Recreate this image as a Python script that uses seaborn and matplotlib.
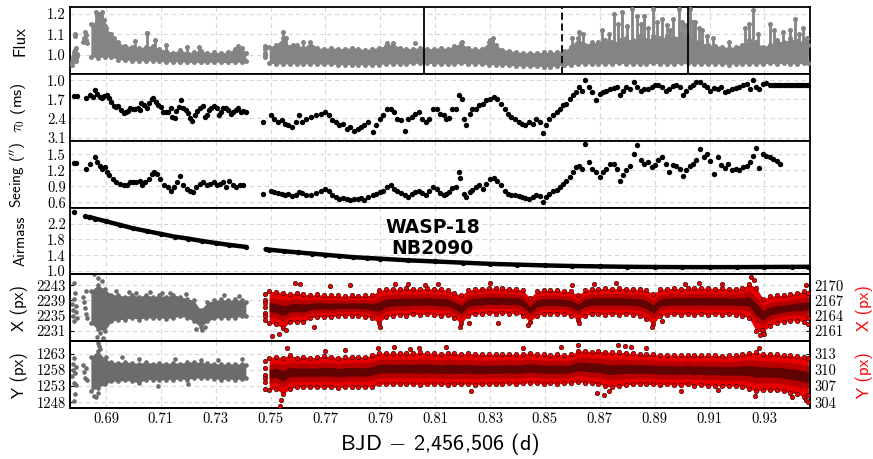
import os
import numpy as np
import pandas as pd
import matplotlib
matplotlib.use("Agg")
import matplotlib.pyplot as plt
from matplotlib import font_manager as fm
import seaborn as sns

# ---------------------------------------------------------------
# Time bins (BJD - 2,456,506) for the densely sampled photometry
# ---------------------------------------------------------------
t_a = [0.6845, 0.6870, 0.6895, 0.6920, 0.6945, 0.6970, 0.6995, 0.7020, 0.7045, 0.7070,
       0.7095, 0.7120, 0.7145, 0.7170, 0.7195, 0.7220, 0.7245, 0.7270, 0.7295, 0.7320,
       0.7345, 0.7370, 0.7395, 0.7410]
t_b = [0.7495, 0.7520, 0.7545, 0.7570, 0.7595, 0.7620, 0.7645, 0.7670, 0.7695, 0.7720,
       0.7745, 0.7770, 0.7795, 0.7820, 0.7845, 0.7870, 0.7895, 0.7920, 0.7945, 0.7970,
       0.7995, 0.8020, 0.8045, 0.8070, 0.8095, 0.8120, 0.8145, 0.8170, 0.8195, 0.8220,
       0.8245, 0.8270, 0.8295, 0.8320, 0.8345, 0.8370, 0.8395, 0.8420, 0.8445, 0.8470,
       0.8495, 0.8520, 0.8545, 0.8570, 0.8595, 0.8620, 0.8645, 0.8670, 0.8695, 0.8720,
       0.8745, 0.8770, 0.8795, 0.8820, 0.8845, 0.8870, 0.8895, 0.8920, 0.8945, 0.8970,
       0.8995, 0.9020, 0.9045, 0.9070, 0.9095, 0.9120, 0.9145, 0.9170, 0.9195, 0.9220,
       0.9245, 0.9270, 0.9295, 0.9320, 0.9345, 0.9370, 0.9395, 0.9420, 0.9445, 0.9460]

# ---- relative flux: lower / upper envelope per bin ----
flux_lo_a = [0.990, 0.985, 0.990, 0.990, 0.975, 0.975, 0.970, 0.970, 0.970, 0.970,
             0.968, 0.965, 0.965, 0.965, 0.962, 0.962, 0.962, 0.962, 0.965, 0.962,
             0.962, 0.962, 0.965, 0.970]
flux_hi_a = [1.150, 1.170, 1.140, 1.100, 1.060, 1.045, 1.040, 1.035, 1.040, 1.045,
             1.030, 1.020, 1.010, 1.025, 1.010, 1.015, 1.020, 1.010, 1.012, 1.010,
             1.012, 1.030, 1.035, 1.010]
flux_lo_b = [0.960, 0.955, 0.955, 0.955, 0.955, 0.955, 0.955, 0.955, 0.953, 0.955,
             0.950, 0.952, 0.950, 0.952, 0.950, 0.950, 0.952, 0.955, 0.955, 0.955,
             0.955, 0.958, 0.958, 0.960, 0.955, 0.955, 0.955, 0.955, 0.958, 0.955,
             0.955, 0.955, 0.950, 0.952, 0.950, 0.948, 0.945, 0.945, 0.943, 0.943,
             0.942, 0.942, 0.945, 0.948, 0.950, 0.955, 0.955, 0.955, 0.955, 0.955,
             0.955, 0.958, 0.955, 0.955, 0.955, 0.955, 0.958, 0.955, 0.955, 0.955,
             0.958, 0.958, 0.955, 0.955, 0.955, 0.955, 0.955, 0.952, 0.955, 0.955,
             0.955, 0.955, 0.955, 0.958, 0.955, 0.958, 0.955, 0.955, 0.958, 0.960]
flux_hi_b = [1.040, 1.050, 1.080, 1.040, 1.050, 1.035, 1.060, 1.035, 1.030, 1.035,
             1.030, 1.030, 1.035, 1.030, 1.025, 1.030, 1.035, 1.045, 1.055, 1.035,
             1.030, 1.030, 1.035, 1.030, 1.030, 1.035, 1.030, 1.045, 1.055, 1.035,
             1.030, 1.030, 1.060, 1.050, 1.025, 1.020, 1.015, 1.010, 1.010, 1.010,
             1.012, 1.012, 1.015, 1.020, 1.040, 1.080, 1.050, 1.060, 1.060, 1.070,
             1.060, 1.070, 1.080, 1.070, 1.090, 1.070, 1.090, 1.080, 1.090, 1.080,
             1.100, 1.090, 1.080, 1.060, 1.050, 1.045, 1.040, 1.035, 1.040, 1.050,
             1.070, 1.060, 1.040, 1.050, 1.070, 1.060, 1.080, 1.065, 1.070, 1.050]
# short bright excursions (flare-like streaks) in the flux
flux_spike_t = [0.6862, 0.6868, 0.6880, 0.6885, 0.6892, 0.6900, 0.6930, 0.7005, 0.7048, 0.7080,
                0.7120, 0.7195, 0.7240, 0.7380,
                0.7544, 0.7555, 0.7580, 0.7617, 0.7926, 0.8196, 0.8300, 0.8309, 0.8600, 0.8625,
                0.8640, 0.8708, 0.8735, 0.8750, 0.8765, 0.8781, 0.8800, 0.8817, 0.8835, 0.8850,
                0.8862, 0.8875, 0.8893, 0.8910, 0.8926, 0.8944, 0.8955, 0.8968, 0.8987, 0.9000,
                0.9011, 0.9029, 0.9040, 0.9047, 0.9060, 0.9072, 0.9090, 0.9114, 0.9170, 0.9229,
                0.9245, 0.9260, 0.9275, 0.9320, 0.9335, 0.9369, 0.9395, 0.9411, 0.9425, 0.9442,
                0.9455]
flux_spike_top = [1.210, 1.190, 1.200, 1.210, 1.170, 1.130, 1.080, 1.065, 1.105, 1.070,
                  1.050, 1.040, 1.040, 1.045,
                  1.110, 1.080, 1.050, 1.060, 1.055, 1.060, 1.070, 1.080, 1.080, 1.110,
                  1.100, 1.120, 1.100, 1.200, 1.150, 1.210, 1.140, 1.225, 1.190, 1.150,
                  1.190, 1.130, 1.225, 1.160, 1.175, 1.145, 1.120, 1.175, 1.225, 1.160,
                  1.145, 1.225, 1.160, 1.160, 1.130, 1.120, 1.090, 1.080, 1.060, 1.130,
                  1.150, 1.220, 1.100, 1.150, 1.120, 1.110, 1.120, 1.175, 1.100, 1.130,
                  1.080]
# sparse exposures at the start of each block and isolated points
flux_pts_t = [0.6776, 0.6778, 0.6780, 0.6781, 0.6783, 0.6785, 0.6787, 0.6789, 0.6790, 0.6792,
              0.6794, 0.6795, 0.6786, 0.6788, 0.6817, 0.6820, 0.6823, 0.6826, 0.6829, 0.6832,
              0.7478, 0.7478, 0.7479, 0.7481, 0.7481, 0.8028, 0.7048]
flux_pts_v = [0.950, 0.962, 0.975, 0.988, 1.000, 1.012, 1.025, 1.035, 0.985, 0.968,
              1.005, 0.995, 1.090, 1.100, 1.060, 1.080, 1.110, 1.095, 1.070, 1.055,
              0.990, 1.010, 1.030, 1.045, 1.000, 1.056, 1.105]
# contact times marked on the light curve
contact_solid = [0.8061, 0.9022]
contact_dashed = [0.8564]

# ---- coherence time tau_0 (ms) ----
tau_t = [0.6784, 0.6794, 0.6827, 0.6843, 0.6851, 0.6861, 0.6869, 0.6878, 0.6885, 0.6894,
         0.6903, 0.6912, 0.6918, 0.6928, 0.6936, 0.6945, 0.6954, 0.6964, 0.6972, 0.6981,
         0.6988, 0.6997, 0.7005, 0.7015, 0.7025, 0.7029, 0.7039, 0.7048, 0.7057, 0.7066,
         0.7073, 0.7082, 0.7090, 0.7100, 0.7108, 0.7118, 0.7127, 0.7136, 0.7142, 0.7151,
         0.7157, 0.7167, 0.7173, 0.7181, 0.7191, 0.7199, 0.7207, 0.7215, 0.7224, 0.7233,
         0.7242, 0.7252, 0.7260, 0.7270, 0.7276, 0.7284, 0.7294, 0.7304, 0.7312, 0.7318,
         0.7328, 0.7337, 0.7345, 0.7355, 0.7363, 0.7373, 0.7381, 0.7391, 0.7400, 0.7409,
         0.7474, 0.7500, 0.7512, 0.7526, 0.7540, 0.7552, 0.7564, 0.7578, 0.7592, 0.7604,
         0.7616, 0.7630, 0.7647, 0.7664, 0.7682, 0.7699, 0.7713, 0.7725, 0.7737, 0.7751,
         0.7765, 0.7777, 0.7789, 0.7803, 0.7817, 0.7829, 0.7841, 0.7855, 0.7872, 0.7886,
         0.7898, 0.7910, 0.7924, 0.7938, 0.7950, 0.7962, 0.7976, 0.7989, 0.8002, 0.8014,
         0.8028, 0.8041, 0.8053, 0.8066, 0.8079, 0.8093, 0.8105, 0.8117, 0.8131, 0.8140,
         0.8149, 0.8162, 0.8175, 0.8187, 0.8197, 0.8204, 0.8214, 0.8226, 0.8235, 0.8247,
         0.8261, 0.8273, 0.8287, 0.8301, 0.8313, 0.8325, 0.8339, 0.8353, 0.8365, 0.8377,
         0.8391, 0.8405, 0.8417, 0.8429, 0.8443, 0.8456, 0.8469, 0.8481, 0.8494, 0.8503,
         0.8515, 0.8529, 0.8543, 0.8555, 0.8567, 0.8578, 0.8590, 0.8602, 0.8612, 0.8624,
         0.8636, 0.8647, 0.8659, 0.8671, 0.8685, 0.8699, 0.8711, 0.8723, 0.8737, 0.8750,
         0.8763, 0.8775, 0.8785, 0.8797, 0.8809, 0.8823, 0.8837, 0.8849, 0.8861, 0.8875,
         0.8889, 0.8901, 0.8913, 0.8927, 0.8941, 0.8953, 0.8965, 0.8979, 0.8993, 0.9005,
         0.9013, 0.9027, 0.9039, 0.9051, 0.9065, 0.9079, 0.9091, 0.9103, 0.9117, 0.9131,
         0.9143, 0.9155, 0.9169, 0.9183, 0.9195, 0.9207, 0.9221, 0.9235, 0.9247, 0.9259,
         0.9269, 0.9281, 0.9294, 0.9307, 0.9321, 0.9330, 0.9338, 0.9346, 0.9354, 0.9362,
         0.9370, 0.9378, 0.9386, 0.9394, 0.9402, 0.9410, 0.9418, 0.9426, 0.9434, 0.9442,
         0.9450, 0.9458]
tau_v = [1.57, 1.57, 1.64, 1.55, 1.61, 1.36, 1.52, 1.61, 1.67, 1.58,
         1.55, 1.67, 1.79, 1.95, 1.97, 1.95, 2.09, 2.19, 2.16, 2.12,
         2.03, 2.07, 2.07, 2.03, 2.09, 1.85, 1.91, 2.00, 1.85, 1.69,
         1.67, 1.79, 1.91, 1.97, 2.16, 2.16, 2.16, 2.03, 2.34, 2.40,
         2.12, 1.97, 1.73, 2.00, 2.09, 2.19, 2.40, 2.48, 2.28, 2.12,
         2.03, 1.95, 2.34, 2.28, 2.09, 2.00, 1.95, 2.03, 2.28, 2.16,
         2.03, 2.00, 2.09, 2.22, 2.16, 2.09, 2.03, 2.16, 2.12, 2.16,
         2.53, 2.29, 2.41, 2.53, 2.47, 2.59, 2.65, 2.71, 2.53, 2.29,
         2.53, 2.41, 2.35, 2.29, 2.23, 2.17, 2.29, 2.47, 2.53, 2.65,
         2.59, 2.78, 2.71, 2.84, 2.78, 2.71, 2.65, 2.53, 2.90, 2.65,
         2.41, 2.29, 2.05, 2.05, 2.17, 2.41, 2.47, 2.84, 2.41, 2.35,
         2.23, 2.17, 2.41, 2.53, 2.41, 2.05, 2.07, 2.23, 2.29, 2.41,
         2.39, 2.05, 2.05, 1.56, 1.68, 2.41, 2.65, 2.23, 2.05, 2.05,
         1.92, 1.86, 1.74, 1.68, 1.62, 1.68, 1.86, 2.05, 2.23, 2.35,
         2.41, 2.53, 2.59, 2.65, 2.53, 2.59, 2.41, 2.53, 2.92, 2.65,
         2.41, 2.29, 2.17, 2.05, 1.92, 1.86, 1.68, 1.56, 1.44, 1.26,
         1.38, 0.98, 1.26, 1.44, 1.74, 1.50, 1.44, 1.38, 1.32, 1.29,
         1.26, 1.56, 1.38, 1.26, 1.32, 1.07, 1.26, 1.38, 1.32, 1.32,
         1.26, 1.19, 1.17, 1.26, 1.38, 1.32, 1.22, 1.19, 1.26, 1.56,
         1.38, 1.26, 1.17, 1.07, 1.05, 1.19, 1.26, 1.38, 1.29, 1.34,
         1.26, 1.44, 1.38, 1.32, 1.29, 1.26, 1.19, 1.13, 1.32, 0.98,
         1.26, 1.32, 1.13, 1.10, 1.17, 1.17, 1.17, 1.18, 1.17, 1.17,
         1.17, 1.18, 1.17, 1.17, 1.17, 1.17, 1.18, 1.17, 1.17, 1.17,
         1.17, 1.17]

# ---- seeing (arcsec) ----
see_t = [0.6782, 0.6791, 0.6826, 0.6843, 0.6860, 0.6869, 0.6877, 0.6886, 0.6895, 0.6903,
         0.6912, 0.6924, 0.6938, 0.6952, 0.6964, 0.6976, 0.6986, 0.6998, 0.7011, 0.7024,
         0.7033, 0.7042, 0.7056, 0.7068, 0.7076, 0.7085, 0.7097, 0.7111, 0.7125, 0.7137,
         0.7149, 0.7159, 0.7171, 0.7180, 0.7194, 0.7206, 0.7218, 0.7228, 0.7241, 0.7253,
         0.7267, 0.7280, 0.7293, 0.7305, 0.7315, 0.7327, 0.7339, 0.7350, 0.7362, 0.7374,
         0.7388, 0.7401,
         0.7474, 0.7500, 0.7512, 0.7526, 0.7540, 0.7552, 0.7564, 0.7578, 0.7592, 0.7604,
         0.7616, 0.7630, 0.7647, 0.7664, 0.7682, 0.7699, 0.7713, 0.7725, 0.7737, 0.7751,
         0.7765, 0.7777, 0.7789, 0.7803, 0.7817, 0.7829, 0.7841, 0.7855, 0.7872, 0.7886,
         0.7898, 0.7910, 0.7924, 0.7938, 0.7950, 0.7962, 0.7976, 0.7989, 0.8002, 0.8014,
         0.8028, 0.8041, 0.8053, 0.8066, 0.8079, 0.8093, 0.8105, 0.8117, 0.8131, 0.8140,
         0.8149, 0.8162, 0.8175, 0.8187, 0.8192, 0.8204, 0.8214, 0.8226, 0.8235, 0.8247,
         0.8261, 0.8273, 0.8287, 0.8301, 0.8313, 0.8325, 0.8339, 0.8353, 0.8365, 0.8377,
         0.8391, 0.8405, 0.8417, 0.8429, 0.8443, 0.8456, 0.8469, 0.8481, 0.8494, 0.8503,
         0.8515, 0.8529, 0.8543, 0.8555, 0.8567, 0.8578, 0.8590, 0.8602, 0.8612, 0.8624,
         0.8636, 0.8647, 0.8659, 0.8671, 0.8685, 0.8699, 0.8711, 0.8723, 0.8737, 0.8750,
         0.8763, 0.8775, 0.8785, 0.8797, 0.8809, 0.8823, 0.8837, 0.8849, 0.8861, 0.8875,
         0.8889, 0.8901, 0.8913, 0.8927, 0.8941, 0.8953, 0.8965, 0.8979, 0.8993, 0.9005,
         0.9013, 0.9027, 0.9039, 0.9051, 0.9065, 0.9079, 0.9091, 0.9103, 0.9117, 0.9131,
         0.9143, 0.9155, 0.9169, 0.9183, 0.9195, 0.9207, 0.9221, 0.9235, 0.9247, 0.9259,
         0.9269, 0.9281, 0.9294, 0.9307, 0.9321, 0.9333, 0.9345, 0.9356]
see_v = [1.34, 1.34, 1.23, 1.32, 1.45, 1.36, 1.29, 1.23, 1.26, 1.17,
         1.11, 1.04, 0.98, 0.95, 0.92, 0.93, 0.98, 0.99, 0.98, 1.01,
         0.93, 0.98, 1.04, 1.14, 1.17, 1.14, 1.04, 0.92, 0.89, 0.82,
         0.89, 0.98, 1.10, 0.92, 0.86, 0.82, 0.79, 0.89, 0.95, 0.98,
         0.92, 0.95, 0.98, 0.92, 0.95, 0.98, 0.89, 1.01, 0.92, 0.89,
         0.92, 0.92,
         0.76, 0.82, 0.79, 0.78, 0.76, 0.73, 0.76, 0.72, 0.74, 0.79,
         0.78, 0.73, 0.74, 0.78, 0.82, 0.86, 0.81, 0.73, 0.70, 0.67,
         0.68, 0.66, 0.64, 0.67, 0.66, 0.68, 0.64, 0.70, 0.73, 0.76,
         0.79, 0.82, 0.89, 0.92, 0.86, 0.82, 0.78, 0.74, 0.70, 0.76,
         0.79, 0.81, 0.78, 0.73, 0.82, 0.89, 0.86, 0.78, 0.73, 0.76,
         0.79, 0.87, 0.89, 1.18, 1.06, 0.76, 0.70, 0.79, 0.84, 0.89,
         0.92, 0.86, 0.95, 1.04, 1.06, 1.01, 0.92, 0.82, 0.76, 0.74,
         0.73, 0.72, 0.70, 0.68, 0.67, 0.70, 0.74, 0.72, 0.61, 0.70,
         0.76, 0.81, 0.84, 0.89, 0.95, 1.01, 1.07, 1.17, 1.26, 1.29,
         1.22, 1.70, 1.36, 1.23, 1.17, 1.07, 1.17, 1.23, 1.32, 1.32,
         1.23, 1.01, 1.11, 1.20, 1.29, 1.51, 1.68, 1.39, 1.32, 1.36,
         1.26, 1.30, 1.40, 1.45, 1.33, 1.17, 1.30, 1.28, 1.22, 1.10,
         1.20, 1.28, 1.33, 1.40, 1.61, 1.45, 1.50, 1.38, 1.14, 1.45,
         1.30, 1.24, 1.33, 1.20, 1.23, 1.20, 1.26, 1.29, 1.36, 1.48,
         1.62, 1.25, 1.50, 1.48, 1.45, 1.42, 1.38, 1.33]

# ---- airmass ----
air_t = [0.6783, 0.6823,
         0.6840, 0.6860, 0.6900, 0.6950, 0.7000, 0.7050, 0.7100, 0.7150, 0.7200, 0.7250,
         0.7300, 0.7350, 0.7410,
         0.7482, 0.7495, 0.7550, 0.7600, 0.7650, 0.7700, 0.7750, 0.7800, 0.7850, 0.7900,
         0.8000, 0.8100, 0.8200, 0.8300, 0.8400, 0.8500, 0.8600, 0.8700, 0.8800, 0.8900,
         0.9000, 0.9100, 0.9200, 0.9300, 0.9400, 0.9460]
air_v = [2.49, 2.40,
         2.37, 2.33, 2.26, 2.17, 2.08, 2.01, 1.94, 1.87, 1.82, 1.76,
         1.71, 1.66, 1.61,
         1.55, 1.54, 1.50, 1.47, 1.44, 1.41, 1.38, 1.35, 1.33, 1.31,
         1.27, 1.24, 1.21, 1.18, 1.16, 1.14, 1.125, 1.115, 1.105, 1.100,
         1.097, 1.096, 1.097, 1.100, 1.103, 1.105]
air_block = ["p1", "p2"] + ["a"] * 13 + ["b"] * 26

# ---- detector X centroid (px): first block on the left scale, second on the right ----
xg_lo = [2233.0, 2231.5, 2231.0, 2233.5, 2234.0, 2234.0, 2234.5, 2234.0, 2234.5, 2234.3,
         2234.5, 2234.2, 2234.5, 2234.8, 2234.5, 2233.5, 2232.0, 2233.5, 2234.3, 2234.5,
         2234.5, 2234.5, 2234.8, 2235.0]
xg_hi = [2241.5, 2243.0, 2242.0, 2240.5, 2240.5, 2240.0, 2240.5, 2240.0, 2240.5, 2240.0,
         2240.3, 2240.0, 2240.5, 2240.0, 2239.5, 2239.0, 2236.5, 2238.5, 2239.0, 2239.3,
         2239.0, 2239.3, 2239.0, 2238.5]
xg_pts_t = [0.6777, 0.6779, 0.6781, 0.6783, 0.6785, 0.6787, 0.6789, 0.6791, 0.6793, 0.6784,
            0.6818, 0.6821, 0.6824, 0.6827, 0.6830, 0.6826,
            0.6858, 0.6872, 0.6884, 0.6868, 0.6878, 0.6889, 0.6935, 0.6985, 0.7010, 0.7060,
            0.7105, 0.7135, 0.7190, 0.7230, 0.7250, 0.7262, 0.7330, 0.7385]
xg_pts_v = [2238.0, 2236.5, 2235.0, 2233.5, 2239.5, 2241.0, 2237.5, 2236.0, 2234.5, 2243.5,
            2240.0, 2238.5, 2237.0, 2235.5, 2234.5, 2241.5,
            2245.8, 2245.0, 2244.2, 2229.5, 2230.5, 2229.2, 2241.5, 2241.2, 2241.0, 2241.3,
            2241.0, 2240.9, 2240.8, 2231.5, 2231.2, 2232.0, 2240.3, 2240.2]
xr_lo = [2162.5, 2162.3, 2161.5, 2162.7, 2162.8, 2162.7, 2163.6, 2163.7, 2163.8, 2163.7,
         2164.0, 2164.0, 2164.0, 2164.0, 2163.8, 2163.5, 2162.5, 2163.8, 2164.0, 2164.2,
         2164.0, 2164.3, 2164.2, 2164.3, 2164.2, 2164.0, 2164.2, 2163.5, 2162.5, 2164.0,
         2164.3, 2164.3, 2164.5, 2164.4, 2164.5, 2164.4, 2164.5, 2164.0, 2162.8, 2164.0,
         2164.3, 2164.4, 2164.3, 2164.3, 2164.0, 2163.2, 2164.0, 2164.3, 2164.3, 2164.2,
         2164.3, 2164.2, 2164.3, 2164.2, 2164.0, 2163.3, 2162.3, 2164.0, 2164.2, 2164.3,
         2164.2, 2164.3, 2164.2, 2164.3, 2164.2, 2164.3, 2164.2, 2164.3, 2164.2, 2164.0,
         2163.5, 2161.0, 2160.8, 2162.0, 2162.5, 2162.8, 2163.0, 2163.0, 2162.8, 2163.5]
xr_hi = [2168.8, 2168.7, 2168.5, 2168.3, 2168.5, 2168.3, 2168.0, 2168.2, 2168.0, 2168.0,
         2168.0, 2167.8, 2168.0, 2167.9, 2168.0, 2168.0, 2169.0, 2169.2, 2169.3, 2169.2,
         2169.4, 2169.2, 2169.3, 2169.4, 2169.2, 2169.3, 2169.0, 2168.5, 2168.0, 2169.0,
         2169.3, 2169.3, 2169.5, 2169.4, 2169.4, 2169.3, 2169.3, 2169.0, 2167.5, 2168.8,
         2169.0, 2169.0, 2169.0, 2168.8, 2168.8, 2168.0, 2169.0, 2169.3, 2169.3, 2169.4,
         2169.3, 2169.4, 2169.3, 2169.2, 2169.2, 2169.0, 2168.3, 2169.2, 2169.3, 2169.4,
         2169.3, 2169.4, 2169.5, 2169.4, 2169.5, 2169.3, 2169.4, 2169.3, 2169.3, 2169.5,
         2170.2, 2169.5, 2167.3, 2167.8, 2168.0, 2168.0, 2168.2, 2168.5, 2168.8, 2168.5]
xr_pts_t = [0.7478, 0.7478, 0.7478, 0.7478, 0.7479, 0.7481, 0.7481,
            0.7505, 0.7530, 0.7555, 0.7590, 0.7606, 0.7660, 0.7715, 0.7790, 0.7900, 0.7955,
            0.8000, 0.8063, 0.8110, 0.8190, 0.8225, 0.8300, 0.8330, 0.8440, 0.8600, 0.8625,
            0.8680, 0.8760, 0.8890, 0.8925, 0.9010, 0.9060, 0.9145, 0.9250, 0.9262, 0.9285,
            0.9300, 0.9290, 0.9450, 0.9458]
xr_pts_v = [2163.2, 2164.5, 2165.8, 2167.0, 2168.3, 2163.9, 2166.4,
            2160.0, 2160.5, 2161.2, 2170.5, 2170.3, 2161.8, 2169.9, 2170.0, 2161.8, 2170.2,
            2170.3, 2170.1, 2170.2, 2161.8, 2162.5, 2170.4, 2162.6, 2162.2, 2170.1, 2162.5,
            2170.3, 2170.4, 2161.8, 2162.9, 2170.2, 2170.4, 2170.3, 2171.6, 2171.0, 2160.2,
            2160.5, 2161.2, 2170.0, 2162.3]

# ---- detector Y centroid (px) ----
yg_lo = [1251.5, 1252.5, 1253.5, 1254.5, 1254.5, 1254.8, 1254.5, 1254.0, 1255.0, 1255.0,
         1254.8, 1255.0, 1255.0, 1255.2, 1255.0, 1255.5, 1255.5, 1255.5, 1255.3, 1255.0,
         1255.2, 1255.0, 1255.2, 1255.5]
yg_hi = [1262.0, 1264.0, 1261.5, 1260.5, 1260.3, 1260.5, 1260.3, 1260.0, 1260.5, 1260.0,
         1260.3, 1260.0, 1260.3, 1260.0, 1260.5, 1260.5, 1260.3, 1260.2, 1260.0, 1259.8,
         1260.0, 1259.8, 1260.0, 1259.5]
yg_pts_t = [0.6777, 0.6779, 0.6781, 0.6783, 0.6785, 0.6787, 0.6789, 0.6791, 0.6784, 0.6786,
            0.6818, 0.6821, 0.6824, 0.6827, 0.6830,
            0.6858, 0.6865, 0.6872, 0.6876, 0.6880, 0.6870, 0.6900, 0.6960, 0.7020, 0.7090,
            0.7150, 0.7200, 0.7245, 0.7310, 0.7395]
yg_pts_v = [1256.0, 1258.0, 1260.0, 1254.0, 1261.8, 1257.0, 1253.3, 1259.0, 1248.5, 1250.5,
            1259.5, 1257.5, 1255.5, 1258.5, 1255.0,
            1250.0, 1249.5, 1266.5, 1265.5, 1264.5, 1251.0, 1262.0, 1262.0, 1261.5, 1253.0,
            1261.5, 1253.5, 1261.2, 1261.0, 1261.5]
yr_lo = [306.3, 306.5, 305.5, 306.5, 306.8, 306.8, 306.8, 306.8, 306.8, 306.8,
         306.7, 306.8, 306.9, 306.8, 306.8, 306.9, 307.3, 307.4, 307.3, 307.4,
         307.3, 307.4, 307.2, 307.3, 307.4, 307.3, 307.2, 307.3, 307.3, 307.4,
         307.2, 307.3, 307.4, 307.3, 307.4, 307.5, 307.3, 307.5, 307.6, 307.5,
         307.4, 307.5, 307.4, 307.5, 307.6, 307.8, 307.6, 307.5, 307.4, 307.0,
         306.8, 307.0, 307.2, 307.3, 307.4, 307.3, 307.3, 307.2, 307.3, 307.2,
         307.2, 307.3, 307.1, 307.2, 307.0, 307.1, 307.0, 307.0, 307.0, 306.8,
         306.5, 306.0, 306.3, 306.3, 306.2, 306.0, 305.8, 305.5, 305.0, 305.3]
yr_hi = [312.3, 312.5, 312.3, 312.8, 312.3, 312.5, 312.3, 312.4, 312.6, 312.5,
         312.3, 312.4, 312.5, 312.5, 312.4, 312.8, 313.2, 313.2, 313.1, 313.2,
         313.2, 313.1, 313.3, 313.2, 313.1, 313.0, 313.2, 313.1, 313.0, 313.1,
         313.0, 312.9, 312.9, 313.0, 312.9, 313.0, 312.9, 313.0, 313.2, 313.0,
         312.9, 312.8, 312.9, 312.8, 312.9, 313.5, 313.6, 313.4, 313.5, 313.4,
         313.3, 313.3, 313.2, 313.1, 313.0, 313.0, 312.9, 312.8, 312.8, 312.8,
         312.7, 312.8, 312.7, 312.8, 312.7, 312.8, 312.6, 312.7, 312.7, 313.0,
         313.2, 313.3, 313.0, 312.9, 312.9, 312.8, 312.7, 312.6, 312.5, 312.2]
yr_pts_t = [0.7478, 0.7478, 0.7478, 0.7478, 0.7479, 0.7481,
            0.7535, 0.7538, 0.7560, 0.7700, 0.7770, 0.7890, 0.7950, 0.8010, 0.8040, 0.8140,
            0.8230, 0.8420, 0.8560, 0.8620, 0.8690, 0.8715, 0.8735, 0.8765, 0.8790, 0.8815,
            0.8870, 0.8995, 0.9130, 0.9265, 0.9280, 0.9400, 0.9452, 0.9460]
yr_pts_v = [306.5, 307.8, 309.1, 310.4, 311.7, 308.5,
            303.3, 304.5, 314.0, 313.6, 313.8, 314.1, 314.3, 313.9, 314.1, 314.2,
            306.0, 314.0, 314.3, 314.6, 305.8, 305.4, 306.0, 314.6, 314.5, 314.2,
            314.0, 306.0, 306.2, 305.1, 314.0, 305.0, 304.5, 304.0]

# ---- axis ticks ----
x_ticks = [0.69, 0.71, 0.73, 0.75, 0.77, 0.79, 0.81, 0.83, 0.85, 0.87, 0.89, 0.91, 0.93]
flux_ticks = [1.0, 1.1, 1.2]
tau_ticks = [1.0, 1.7, 2.4, 3.1]
see_ticks = [0.6, 0.9, 1.2, 1.5]
air_ticks = [1.0, 1.4, 1.8, 2.2]
xl_ticks = [2231, 2235, 2239, 2243]
xr_ticks = [2161, 2164, 2167, 2170]
yl_ticks = [1248, 1253, 1258, 1263]
yr_ticks = [304, 307, 310, 313]

# ---------------------------------------------------------------
# Computer Modern faces shipped with matplotlib
_ttf = os.path.join(matplotlib.get_data_path(), "fonts", "ttf")
for _name in ("cmr10.ttf", "cmss10.ttf"):
    _p = os.path.join(_ttf, _name)
    if os.path.exists(_p):
        fm.fontManager.addfont(_p)
SERIF = fm.FontProperties(fname=os.path.join(_ttf, "cmr10.ttf"), size=10.5)
SANS_PATH = os.path.join(_ttf, "cmss10.ttf")

sns.set_style("white")
plt.rcParams["font.family"] = ["cmr10", "DejaVu Sans"]
plt.rcParams["mathtext.fontset"] = "cm"
plt.rcParams["axes.formatter.use_mathtext"] = True
plt.rcParams["axes.unicode_minus"] = False
for _k in ("text.color", "axes.labelcolor", "xtick.color", "ytick.color"):
    plt.rcParams[_k] = "black"

GREY_F = "#848484"
GREY_D = "#6c6c6c"
RED = "#e80000"


def sans(size):
    return fm.FontProperties(fname=SANS_PATH, size=size)


fig, axes = plt.subplots(6, 1, figsize=(8.73, 4.59), dpi=100, sharex=True,
                         gridspec_kw={"hspace": 0})
fig.subplots_adjust(left=0.0802, right=0.9278, top=0.984, bottom=0.111)
ax_f, ax_tau, ax_see, ax_air, ax_x, ax_y = axes


def dots(ax, t, v, color, s=13, edge=None, z=3):
    sns.scatterplot(x=list(t), y=list(v), ax=ax, color=color, s=s,
                    edgecolor=edge if edge else color, linewidth=0.35 if edge else 0,
                    legend=False, zorder=z)


def band(ax, t, lo, hi, color, s=13, edge=None, core=None):
    t, lo, hi = np.asarray(t), np.asarray(lo), np.asarray(hi)
    ax.fill_between(t, lo, hi, color=color, lw=0, zorder=2)
    if core is not None:
        span = hi - lo
        ax.fill_between(t, lo + 0.2 * span, hi - 0.2 * span, color=core[0], lw=0, zorder=2.1)
        ax.fill_between(t, lo + 0.36 * span, hi - 0.36 * span, color=core[1], lw=0, zorder=2.2)
    dots(ax, np.r_[t, t], np.r_[lo, hi], color, s=s, edge=edge)


def set_yticks(ax, ticks, fmt):
    ax.set_yticks(ticks)
    ax.set_yticklabels([fmt.format(v) for v in ticks], fontproperties=SERIF)


# --- flux ---
band(ax_f, t_a, flux_lo_a, flux_hi_a, GREY_F)
band(ax_f, t_b, flux_lo_b, flux_hi_b, GREY_F)
ax_f.vlines(flux_spike_t, 1.0, flux_spike_top, color=GREY_F, lw=2.0, zorder=2)
dots(ax_f, flux_spike_t, flux_spike_top, GREY_F)
dots(ax_f, flux_pts_t, flux_pts_v, GREY_F)
for tc in contact_solid:
    ax_f.axvline(tc, color="k", lw=1.3, zorder=4)
for tc in contact_dashed:
    ax_f.axvline(tc, color="k", lw=1.3, ls=(0, (4, 2)), zorder=4)
ax_f.set_ylim(0.905, 1.232)
set_yticks(ax_f, flux_ticks, "{:.1f}")
ax_f.set_ylabel("Flux", fontproperties=sans(12))

# --- tau_0 ---
dots(ax_tau, tau_t, tau_v, "black", s=15)
ax_tau.set_ylim(3.22, 0.78)
set_yticks(ax_tau, tau_ticks, "{:.1f}")
ax_tau.set_ylabel(r"$\tau_0$ (ms)", fontproperties=sans(11.5))

# --- seeing ---
dots(ax_see, see_t, see_v, "black", s=15)
ax_see.set_ylim(0.50, 1.755)
set_yticks(ax_see, see_ticks, "{:.1f}")
ax_see.set_ylabel(r"Seeing ($^{\prime\prime}$)", fontproperties=sans(11))

# --- airmass ---
air_df = pd.DataFrame({"t": air_t, "airmass": air_v, "block": air_block})
sns.lineplot(data=air_df, x="t", y="airmass", units="block", estimator=None,
             color="black", lw=3.2, ax=ax_air, legend=False, zorder=3)
dots(ax_air, air_t, air_v, "black", s=15)
ax_air.set_ylim(0.91, 2.605)
set_yticks(ax_air, air_ticks, "{:.1f}")
ax_air.set_ylabel("Airmass", fontproperties=sans(11))
ax_air.text(0.49, 0.55, "WASP-18\nNB2090", transform=ax_air.transAxes, ha="center",
            va="center", fontsize=13.5, fontweight="bold", family="DejaVu Sans",
            color="black", linespacing=1.12, zorder=5)

# --- X centroid ---
band(ax_x, t_a, xg_lo, xg_hi, GREY_D, s=11)
dots(ax_x, xg_pts_t, xg_pts_v, GREY_D, s=11)
ax_x.set_ylim(2228.3, 2245.8)
set_yticks(ax_x, xl_ticks, "{}")
ax_x.set_ylabel("X (px)", fontproperties=sans(12))
ax_xr = ax_x.twinx()
band(ax_xr, t_b, xr_lo, xr_hi, RED, s=11, edge="black", core=("#b80000", "#620303"))
dots(ax_xr, xr_pts_t, xr_pts_v, RED, s=11, edge="black")
ax_xr.set_ylim(2158.975, 2172.1)
set_yticks(ax_xr, xr_ticks, "{}")
ax_xr.set_ylabel("X (px)", color="red", rotation=90, fontproperties=sans(12))

# --- Y centroid ---
band(ax_y, t_a, yg_lo, yg_hi, GREY_D, s=11)
dots(ax_y, yg_pts_t, yg_pts_v, GREY_D, s=11)
ax_y.set_ylim(1246.2, 1266.9)
set_yticks(ax_y, yl_ticks, "{}")
ax_y.set_ylabel("Y (px)", fontproperties=sans(12))
ax_yr = ax_y.twinx()
band(ax_yr, t_b, yr_lo, yr_hi, RED, s=11, edge="black", core=("#b80000", "#620303"))
dots(ax_yr, yr_pts_t, yr_pts_v, RED, s=11, edge="black")
ax_yr.set_ylim(302.92, 315.34)
set_yticks(ax_yr, yr_ticks, "{}")
ax_yr.set_ylabel("Y (px)", color="red", rotation=90, fontproperties=sans(12))

# --- shared styling ---
ax_y.set_xlim(0.6769, 0.9466)
ax_y.set_xticks(x_ticks)
ax_y.set_xticklabels([f"{v:.2f}" for v in x_ticks], fontproperties=SERIF)
ax_y.set_xlabel(r"BJD $-$ 2,456,506 (d)", fontproperties=sans(16))

for ax in axes:
    ax.set_axisbelow(True)
    ax.grid(True, ls=(0, (4, 3)), color="#d8d8d8", lw=0.8)
    ax.tick_params(direction="in", length=3, width=0.8, pad=3)
    ax.yaxis.set_label_coords(-0.057, 0.5)
    for sp in ax.spines.values():
        sp.set_color("black")
        sp.set_linewidth(1.3)
for ax in (ax_xr, ax_yr):
    ax.tick_params(direction="in", length=3, width=0.8, pad=3)
    ax.yaxis.set_label_coords(1.062, 0.5)
    for sp in ax.spines.values():
        sp.set_color("black")
        sp.set_linewidth(1.3)
    ax.grid(False)

fig.savefig("out.png", dpi=100)
